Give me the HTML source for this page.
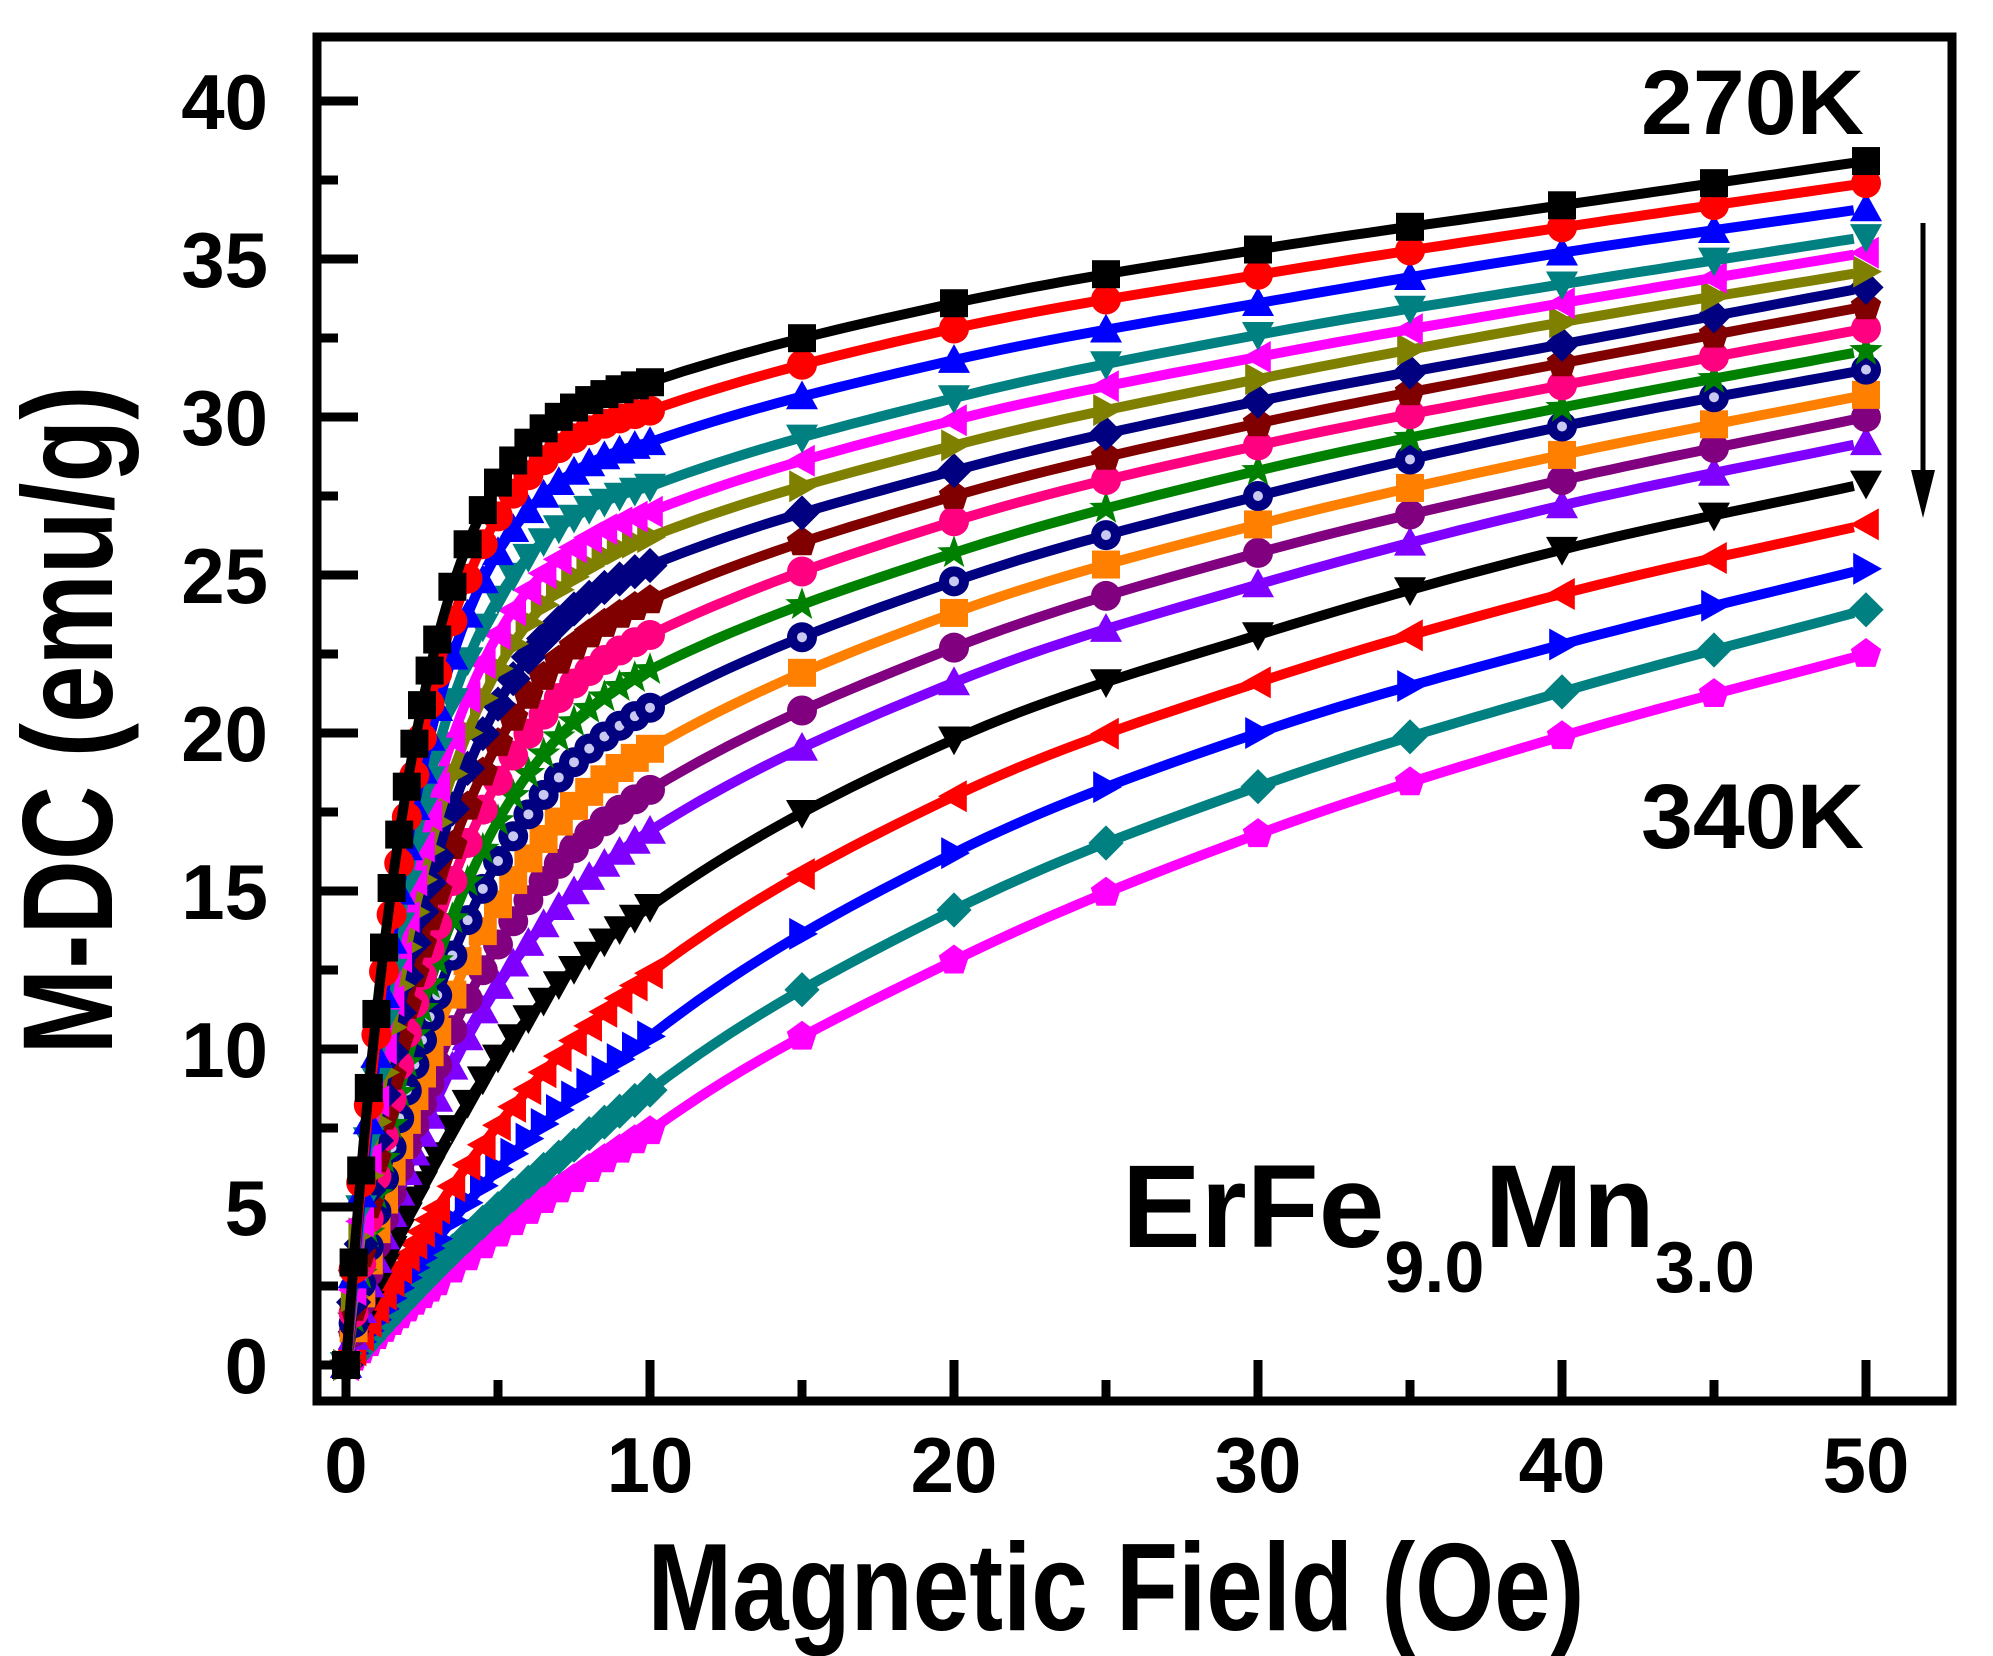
<!DOCTYPE html>
<html><head><meta charset="utf-8"><style>
html,body{margin:0;padding:0;background:#fff;}
svg{display:block;}
text{font-family:"Liberation Sans",Arial,sans-serif;font-weight:bold;fill:#000;}
</style></head><body>
<svg id="s" width="1993" height="1656" viewBox="0 0 1993 1656" xmlns="http://www.w3.org/2000/svg">
<rect width="1993" height="1656" fill="#fff"/>
<g id="data"></g>
<rect x="317" y="37" width="1635" height="1364" fill="none" stroke="#000" stroke-width="9"/>
<g id="ticks" stroke="#000" stroke-width="9"></g>
<g id="labels" font-size="78" text-anchor="middle"></g>
<text x="1116" y="1630" font-size="124" text-anchor="middle" textLength="937" lengthAdjust="spacingAndGlyphs">Magnetic Field (Oe)</text>
<text transform="translate(112,720) rotate(-90)" font-size="128" text-anchor="middle" textLength="669" lengthAdjust="spacingAndGlyphs">M-DC (emu/g)</text>
<text x="1864" y="134" font-size="92" text-anchor="end" textLength="223" lengthAdjust="spacingAndGlyphs">270K</text>
<text x="1864" y="848" font-size="92" text-anchor="end" textLength="223" lengthAdjust="spacingAndGlyphs">340K</text>
<text x="1122" y="1247" font-size="118">ErFe<tspan font-size="72" dy="45">9.0</tspan><tspan dy="-45">Mn</tspan><tspan font-size="72" dy="45">3.0</tspan></text>
<line x1="1923" y1="223" x2="1923" y2="480" stroke="#000" stroke-width="5"/>
<polygon points="1911,470 1935,470 1923,518" fill="#000"/>
</svg>
<script>
var NS="http://www.w3.org/2000/svg";
function X(x){return 346+x*30.4;}
function Y(y){return 1365-y*31.6;}
var tk=document.getElementById('ticks'),lb=document.getElementById('labels');
function ln(a,b,c,d){var l=document.createElementNS(NS,'line');l.setAttribute('x1',a);l.setAttribute('y1',b);l.setAttribute('x2',c);l.setAttribute('y2',d);tk.appendChild(l);}
function tx(x,y,s,anc){var t=document.createElementNS(NS,'text');t.setAttribute('x',x);t.setAttribute('y',y);if(anc)t.setAttribute('text-anchor',anc);t.textContent=s;lb.appendChild(t);}
for(var v=0;v<=50;v+=5){var big=v%10==0;ln(X(v),1401,X(v),big?1360:1380);if(big)tx(X(v),1492,String(v));}
for(var v=0;v<=40;v+=2.5){var big=v%5==0;ln(317,Y(v),big?358:338,Y(v));if(big)tx(268,Y(v)+28,String(v),'end');}
var K=[10,20,30,40,50];
var D=[
[31.1,33.6,35.3,36.7,38.1],[30.2,32.8,34.5,36.0,37.4],[29.2,31.8,33.6,35.2,36.6],[27.8,30.6,32.6,34.2,35.7],
[27.0,29.9,31.9,33.6,35.2],[26.2,29.1,31.2,33.0,34.6],[25.3,28.3,30.5,32.3,34.1],[24.2,27.5,29.8,31.7,33.5],
[23.1,26.7,29.1,31.0,32.8],[22.0,25.7,28.3,30.3,32.1],[20.8,24.8,27.5,29.7,31.5],[19.5,23.8,26.6,28.8,30.7],
[18.2,22.7,25.7,28.0,30.0],[16.9,21.6,24.7,27.2,29.2],[14.5,19.8,23.1,25.8,27.9],[12.4,18.0,21.6,24.4,26.6],
[10.4,16.2,20.0,22.8,25.2],[8.7,14.4,18.3,21.3,23.9],[7.4,12.8,16.8,19.9,22.5]];
var C=[2.3,2.4,2.5,2.6,2.8,3.0,3.2,3.4,3.6,3.9,4.2,4.6,5.0,5.6,7,11,13,18,20];
var COL=['#000000','#ff0000','#0000ff','#008080','#ff00ff','#808000','#000080','#800000','#ff0080','#008000','#000080','#ff8000','#800080','#8000ff','#000000','#ff0000','#0000ff','#008080','#ff00ff'];
var SH=['sq','ci','up','dn','lt','rt','di','pe','ci','st','sp','sq','ci','up','dn','lt','rt','di','pe'];
function val(i,x){var d=D[i];
 if(x<=10){var c=C[i];return d[0]*(1-Math.exp(-x/c))/(1-Math.exp(-10/c));}
 var k=Math.min(3,Math.floor((x-10)/10));var t=(x-K[k])/10;
 var p1=d[k],p2=d[k+1],p0=k>0?d[k-1]:2*p1-p2,p3=k<3?d[k+2]:2*p2-p1;
 if(k==0){p0=p1-(p2-p1)*1.6;}
 var t2=t*t,t3=t2*t;
 return 0.5*(2*p1+(-p0+p2)*t+(2*p0-5*p1+4*p2-p3)*t2+(-p0+3*p1-3*p2+p3)*t3);}
function mk(sh,x,y,col){var r=16,e;
 if(sh=='sq'){e=document.createElementNS(NS,'rect');e.setAttribute('x',x-14);e.setAttribute('y',y-14);e.setAttribute('width',28);e.setAttribute('height',28);}
 else if(sh=='ci'||sh=='sp'){e=document.createElementNS(NS,'circle');e.setAttribute('cx',x);e.setAttribute('cy',y);e.setAttribute('r',15);}
 else{var p;
  if(sh=='up')p=[[0,-r],[r,r*0.8],[-r,r*0.8]];
  else if(sh=='dn')p=[[0,r],[r,-r*0.8],[-r,-r*0.8]];
  else if(sh=='lt')p=[[-r,0],[r*0.8,-r],[r*0.8,r]];
  else if(sh=='rt')p=[[r,0],[-r*0.8,-r],[-r*0.8,r]];
  else if(sh=='di')p=[[0,-r*1.1],[r*1.1,0],[0,r*1.1],[-r*1.1,0]];
  else if(sh=='pe'){p=[];for(var j=0;j<5;j++){var a=-Math.PI/2+j*2*Math.PI/5;p.push([r*Math.cos(a),r*Math.sin(a)]);}}
  else if(sh=='st'){p=[];for(var j=0;j<10;j++){var a=-Math.PI/2+j*Math.PI/5,rr=j%2?r*0.45:r*1.1;p.push([rr*Math.cos(a),rr*Math.sin(a)]);}}
  e=document.createElementNS(NS,'polygon');e.setAttribute('points',p.map(function(q){return (x+q[0]).toFixed(1)+','+(y+q[1]).toFixed(1);}).join(' '));}
 e.setAttribute('fill',col);g.appendChild(e);
 if(sh=='sp'){var h=document.createElementNS(NS,'circle');h.setAttribute('cx',x);h.setAttribute('cy',y);h.setAttribute('r',5);h.setAttribute('fill','#c8c8f0');g.appendChild(h);}
}
var g=document.getElementById('data');
var MX=[0];for(var x=0.25;x<=3.001;x+=0.25)MX.push(x);for(var x=3.5;x<=10.001;x+=0.5)MX.push(x);for(var x=15;x<=50;x+=5)MX.push(x);
for(var i=18;i>=0;i--){
 var pts=[];for(var x=0;x<=50.001;x+=(x<10?0.1:0.5))pts.push(X(x).toFixed(1)+','+Y(val(i,x)).toFixed(1));
 var pl=document.createElementNS(NS,'polyline');pl.setAttribute('points',pts.join(' '));pl.setAttribute('fill','none');pl.setAttribute('stroke',COL[i]);pl.setAttribute('stroke-width',10);pl.setAttribute('stroke-linejoin','round');g.appendChild(pl);
 for(var j=0;j<MX.length;j++)mk(SH[i],X(MX[j]),Y(val(i,MX[j])),COL[i]);
}
</script>
</body></html>
